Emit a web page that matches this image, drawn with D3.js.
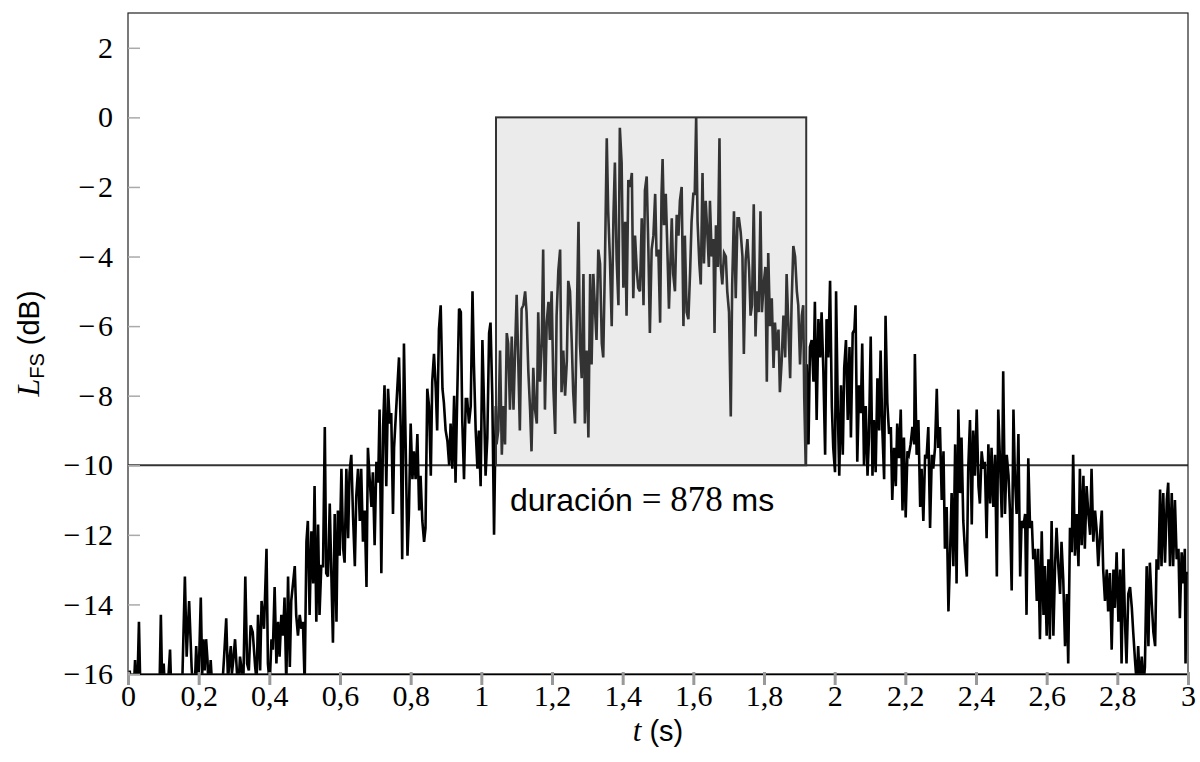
<!DOCTYPE html>
<html><head><meta charset="utf-8">
<script src="https://cdn.jsdelivr.net/npm/d3@7"></script>
<style>body{margin:0;background:#fff}</style>
</head><body>
<svg id="chart" width="1200" height="762"></svg>
<script>
// ---- data ----
const timeMs = [
0,5,10,14,20,25,31,36,42,48,53,60,65,72,77,83,89,93,97,101,107,112,119,124,130,136,142,147,153,161,166,173,180,187,193,199,206,210,213,217,221,225,228,234,239,243,249,255,260,266,272,278,283,287,291,294,298,303,308,312,317,322,326,332,337,342,347,353,360,364,368,374,378,385,
392,396,401,406,410,415,420,425,429,434,439,443,448,453,458,462,467,472,476,481,486,491,495,500,505,509,514,519,524,528,533,538,542,547,552,557,561,566,571,575,580,585,590,594,599,604,609,613,618,623,627,632,637,642,646,651,656,660,665,670,675,679,684,689,693,698,703,708,712,717,722,726,731,736,741,745,750,
753,760,767,772,776,781,786,791,795,800,805,809,814,819,824,828,833,838,842,847,852,857,861,866,871,875,880,885,890,894,899,904,909,913,918,923,927,932,937,942,946,951,956,960,965,970,975,979,984,989,993,998,1003,1008,1012,1017,1022,1026,1031,1036,1041,
1043,1048,1053,1058,1062,1067,1072,1076,1081,1086,1091,1095,1100,1105,1109,1114,1119,1124,1128,1133,1138,1142,1147,1152,1157,1161,1166,1171,1175,1180,1185,1190,1194,1199,1204,1209,1213,1218,1223,1227,1232,1237,1242,1246,1251,1256,1260,1265,1270,1275,1279,1284,1289,1293,1298,1303,1308,1312,1317,1322,1326,1331,1336,1341,1345,1350,1355,1359,1364,1369,1374,1378,1383,1388,1392,1397,1402,1407,1411,1416,1421,1426,1430,1435,1440,1444,1449,1454,1459,1463,1468,1473,1477,1482,1487,1492,1496,1501,1506,1510,1513,1517,1522,1526,1531,
1539,1543,1548,1553,1558,1562,1567,1572,1576,1581,1586,1591,1595,1600,1604,1608,1612,1617,1621,1626,1630,1635,1640,1644,1647,1652,1657,1660,1664,1669,1674,1677,1682,1687,1692,1696,1701,1706,1710,1715,1720,1725,1729,1734,1739,1743,1748,1753,1758,1762,1766,1771,1776,1780,1785,1790,1794,1799,1804,1808,1812,1817,1822,1827,1831,1836,1841,1845,1850,1855,1860,1864,1869,1874,1878,1883,1888,1893,1897,1902,1907,1911,1914,1918,1921,1926,1930,
1935,1940,1944,1949,1954,1959,1963,1968,1973,1977,1982,1987,1992,1996,2001,2004,2009,2013,2018,2023,2027,2032,2037,2042,2046,2051,2056,2059,2064,2069,2074,2078,2083,2088,2093,2097,2102,2107,2111,2116,2121,2126,2130,2135,2140,2144,2149,2154,2159,2163,2168,2173,2177,2182,2187,2192,2196,2201,2206,2210,2215,2220,2225,2227,2232,2237,2242,2246,2251,2256,2260,2265,2270,2275,2279,2284,2289,2293,2298,2303,2308,
2312,2317,2322,2326,2331,2336,2341,2345,2350,2355,2359,2364,2369,2374,2378,2383,2388,2392,2397,2402,2407,2411,2416,2421,2425,2430,2435,2440,2444,2449,2454,2459,2463,2468,2473,2477,2482,2487,2492,2496,2501,2506,2510,2515,2520,2525,2529,2534,2539,2543,2548,2553,2558,2562,2567,2572,2576,2581,2586,2591,2595,2600,2605,2609,2614,2619,2624,2628,2633,2638,2642,2647,2652,2657,2661,2666,2671,2675,2680,2685,2690,2694,
2699,2704,2708,2713,2718,2723,2727,2732,2737,2741,2746,2751,2756,2760,2765,2770,2774,2779,2784,2789,2793,2798,2803,2808,2812,2817,2822,2826,2831,2836,2841,2845,2850,2855,2859,2864,2869,2874,2878,2883,2888,2892,2897,2902,2907,2911,2916,2921,2925,2930,2935,2940,2944,2949,2954,2958,2963,2968,2973,2977,2982,2987,2991,2993,2996,3000
];
const levelDb = [
-17,-15.9,-17,-17,-15.6,-17,-14.5,-17,-17.5,-16,-17,-17.5,-17,-17.5,-17,-17.5,-16.5,-14.3,-16.5,-15.7,-17,-16.5,-15.3,-17,-17.5,-17,-17.5,-17,-16.5,-13.2,-15.5,-13.9,-15.8,-17,-15.2,-16.5,-13.8,-16,-15,-15.9,-15,-15.6,-16.5,-15.6,-16.5,-16,-17,-16.5,-17,-16.5,-15.5,-14.4,-16.2,-15.6,-15.2,-16,-15.6,-15,-15.9,-16.5,-15.5,-15.9,-16.5,-13.2,-15.7,-15.9,-14.6,-14.8,-15.8,-16.2,-14.3,-15.9,-13.9,-14.7,
-12.4,-15.7,-16.3,-15,-15.3,-13.5,-15.7,-14.5,-15.5,-14.3,-14.9,-13.8,-16.3,-13.2,-15.8,-13.9,-13.4,-12.9,-14.3,-14.9,-14.3,-14.7,-14.5,-16.3,-12.2,-11.6,-14.3,-11.9,-13.4,-10.6,-14.5,-11.7,-14.3,-12.9,-12.9,-8.9,-13.1,-13.2,-11.1,-12.9,-15.1,-11.4,-14.5,-11.3,-12.6,-10.1,-12.4,-12.8,-10.1,-12.1,-10.2,-9.7,-11.5,-12.9,-10.9,-10.1,-11.6,-10.1,-12.2,-11.3,-13.5,-9.5,-10.4,-11.2,-10.2,-12.3,-9.9,-10.5,-8.4,-13.1,-8.9,-7.7,-10.6,-7.8,-8.8,-8.5,-11.4,
-9.5,-8.2,-6.9,-9,-12.7,-6.5,-9.5,-12.6,-11.4,-8.8,-10.4,-9.6,-10.4,-9.1,-11.3,-10.3,-11.6,-12.2,-11.8,-7.8,-8.3,-10.3,-7.6,-6.8,-7.8,-9,-6.1,-5.4,-7.8,-8.2,-9,-9.3,-10,-8.8,-10.1,-8,-10.5,-7.9,-5.5,-5.6,-8.7,-10.4,-8.1,-8.1,-8.8,-8.3,-5,-7.1,-9,-10.1,-9,-10.6,-6.4,-8.4,-10.3,-9.2,-6.2,-5.9,-8,-12,-8.3,
-9.4,-9,-6.7,-9.7,-8.3,-9.4,-6.2,-6.5,-8.4,-6.3,-8.4,-6.9,-5.1,-7.2,-9,-5.5,-5.4,-5,-5.6,-7.3,-8.4,-9.6,-7.2,-8.4,-8.8,-5.6,-7.6,-6.5,-3.8,-8.4,-5.9,-5.3,-6.4,-5,-7.8,-9.1,-5.7,-4.4,-3.8,-7.9,-6.7,-8,-7,-4.7,-5,-6.5,-7.9,-8.8,-5.9,-3,-6.5,-7.5,-4.5,-8.8,-6.7,-9.2,-4.5,-7.1,-4.5,-5.6,-6.4,-3.8,-4.2,-6.5,-6.9,-4.1,-0.6,-2.7,-4.1,-6,-2.8,-1.3,-4.1,-5.4,-0.3,-1.3,-4.9,-3,-5.7,-1.8,-2,-1.6,-5.2,-3.4,-4.4,-4.9,-5,-2.9,-5.4,-2.1,-1.7,-3.9,-6.2,-3.8,-3.4,-2.2,-4,-3.8,-5.9,-2.2,-1.2,-3.1,-2.2,-3.6,-5.5,
-2.9,-4.5,-5,-2.8,-3.4,-2.4,-2,-6,-3.4,-5.6,-5.8,-4.4,-3,-2.2,-2.2,0,-3,-4.2,-4.8,-1.6,-4.2,-2.4,-3.4,-4.3,-2.4,-4,-3.5,-6.2,-3.1,-4.3,-0.6,-4.2,-4.8,-3.9,-4,-5,-5.6,-8.6,-4.8,-2.7,-5.2,-2.9,-2.9,-3.3,-4,-6.8,-4.1,-3.5,-4.4,-5.7,-5.4,-2.5,-6.3,-5,-5.6,-2.7,-5.6,-4.8,-4.3,-7.6,-3.9,-6,-5.2,-7.2,-5.9,-6.7,-6.1,-7.9,-7,-5.7,-6.9,-4.5,-6,-7.5,-5.4,-3.7,-4,-5,-5.4,-7.1,-5.7,-5.4,-8.1,-10,-7.1,-9.4,-6.6,
-6.4,-7.6,-5.3,-8.7,-5.8,-6.9,-5.6,-7.3,-9.7,-5.8,-6.9,-4.7,-8.3,-9.5,-10.2,-5,-8.5,-10.3,-7.7,-9.7,-7.2,-6.4,-8.7,-6.6,-9.2,-6.2,-6.1,-5.4,-9.9,-7.7,-8.5,-6.5,-10,-8.3,-10.3,-9.2,-6.3,-10.3,-8.7,-10.2,-7.5,-9,-6.7,-9,-10.4,-5.7,-8.2,-9.1,-8.9,-11,-9.5,-10.6,-8.8,-9.8,-8.4,-11.3,-9.2,-11.5,-9.6,-9.7,-9.4,-8.9,-9.4,-6.8,-9.7,-8.7,-11.2,-10.1,-11.6,-9.7,-9.8,-8.9,-11.8,-9.7,-10.1,-9.5,-7.8,-9.5,-8.9,-11,-9.6,
-12.4,-11.2,-14.2,-12.8,-10.8,-12.9,-9.4,-13.4,-8.4,-10.8,-9.2,-11.6,-12.5,-13.2,-10.1,-8.7,-11.7,-9,-10.3,-8.4,-10.6,-11.1,-9.6,-10.1,-9.9,-12.1,-9.4,-11.1,-9.5,-11.2,-9.7,-13.2,-8.4,-9.9,-11.5,-7.3,-11.4,-9.7,-10.3,-11.3,-13.6,-8.4,-10.3,-11.4,-9.1,-13.2,-11.6,-11.8,-11.4,-14.3,-9.8,-11.8,-11.6,-12.7,-12.4,-13.9,-12.4,-15,-11.9,-14.3,-12.9,-14.9,-12.7,-15,-11.6,-14.9,-12.8,-11.8,-12.9,-13.7,-12.2,-13.3,-15.2,-13.7,-15.7,-11.8,-12.5,-9.7,-12.6,-11.4,-12.9,-10.1,
-12.3,-10.3,-12.4,-10.6,-11.4,-12,-10.1,-12.2,-11.3,-11.8,-12.9,-12,-11.3,-13,-13.9,-13,-14.2,-13.1,-15.3,-13,-14.1,-12.5,-14.5,-13,-15.7,-12.4,-14.6,-15.7,-13.7,-13.5,-14.1,-14.8,-15.6,-16.3,-15.2,-16.4,-15.5,-16.3,-15.8,-12.9,-15.2,-12.8,-13.9,-14.8,-15.2,-12.7,-13,-10.7,-12.9,-10.8,-12.8,-11,-10.5,-12.9,-10.8,-12.9,-11,-12.7,-12.4,-14.4,-12.5,-13.4,-12.4,-15.7,-13.1,-13.1
];
const xTickValues = [0,0.2,0.4,0.6,0.8,1,1.2,1.4,1.6,1.8,2,2.2,2.4,2.6,2.8,3];
const yTickValues = [-16,-14,-12,-10,-8,-6,-4,-2,0,2];
const thresholdDb = -10;
const burstStartS = 1.0415;
const burstEndS = 1.9195;
const burstTopDb = 0;
const durationLabel = "878";

// ---- layout ----
const W = 1200, H = 762;
const m = {left:128, right:12, top:13, bottom:88};
const svg = d3.select("#chart");
const x = d3.scaleLinear().domain([0,3]).range([m.left, W - m.right]);
const y = d3.scaleLinear().domain([-16,3]).range([H - m.bottom, m.top]);
const SERIF = '"Liberation Serif", "Times New Roman", Times';
const SANS = '"Liberation Sans", Arial, Helvetica';

svg.append("defs").append("clipPath").attr("id","plotclip")
  .append("rect").attr("x",x(0)).attr("y",y(3)).attr("width",x(3)-x(0)).attr("height",y(-16)-y(3));

const fmtX = d => d3.format(".1~f")(d).replace(".", ",");
const fmtY = d => (d < 0 ? "\u2212\u200A" + Math.abs(d) : String(d));

// threshold line
svg.append("line")
  .attr("x1",x(0)).attr("x2",x(3)).attr("y1",y(thresholdDb)).attr("y2",y(thresholdDb))
  .attr("stroke","#333").attr("stroke-width",2);

// signal
const pts = timeMs.map((t,i)=>[t/1000, levelDb[i]]);
svg.append("path").datum(pts)
  .attr("clip-path","url(#plotclip)")
  .attr("fill","none").attr("stroke","#000").attr("stroke-width",2.6)
  .attr("d", d3.line().x(d=>x(d[0])).y(d=>y(d[1])));

// burst box (translucent overlay)
svg.append("rect")
  .attr("x",x(burstStartS)).attr("y",y(burstTopDb))
  .attr("width",x(burstEndS)-x(burstStartS)).attr("height",y(thresholdDb)-y(burstTopDb))
  .attr("fill","rgb(183,183,183)").attr("fill-opacity",0.28)
  .attr("stroke","#333").attr("stroke-width",2);

// frame
svg.append("rect").attr("x",x(0)).attr("y",y(3)).attr("width",x(3)-x(0)).attr("height",y(-16)-y(3))
  .attr("fill","none").attr("stroke","#222").attr("stroke-width",1.2);

// x axis
const xAxis = d3.axisBottom(x).tickValues(xTickValues).tickFormat(fmtX).tickSize(11).tickPadding(0);
const gx = svg.append("g").attr("transform",`translate(0,${y(-16)})`).call(xAxis);
gx.select(".domain").attr("stroke","#000").attr("stroke-width",1.5);
gx.selectAll(".tick line").attr("stroke","#999").attr("stroke-width",3).attr("y1",-2);
gx.selectAll(".tick text").style("font-family",SERIF).style("font-size","30px").attr("fill","#000");

// y axis
const yAxis = d3.axisLeft(y).tickValues(yTickValues).tickFormat(fmtY).tickSize(-12).tickPadding(15);
const gy = svg.append("g").attr("transform",`translate(${x(0)},0)`).call(yAxis);
gy.select(".domain").remove();
gy.selectAll(".tick line").attr("stroke","#aaa").attr("stroke-width",1.5);
gy.selectAll(".tick text").style("font-family",SERIF).style("font-size","30px").attr("fill","#000");

// axis titles
const xt = svg.append("text").attr("x",(x(0)+x(3))/2).attr("y",741).attr("text-anchor","middle").style("font-size","29px");
xt.append("tspan").style("font-family",SERIF).style("font-style","italic").style("font-size","31px").text("t");
xt.append("tspan").style("font-family",SANS).text(" (s)");

const yt = svg.append("text").attr("transform",`translate(39,${(y(3)+y(-16))/2}) rotate(-90)`)
  .attr("text-anchor","middle").style("font-size","29px");
yt.append("tspan").style("font-family",SERIF).style("font-style","italic").style("font-size","32px").text("L");
yt.append("tspan").style("font-family",SANS).style("font-size","20px").attr("dy",5).text("FS");
yt.append("tspan").style("font-family",SANS).attr("dy",-5).text(" (dB)");

// annotation
const an = svg.append("text").attr("x",510).attr("y",511).style("font-size","32px");
an.append("tspan").style("font-family",SANS).text("duración ");
an.append("tspan").style("font-family",SERIF).style("font-size","35px").text("= " + durationLabel);
an.append("tspan").style("font-family",SANS).text(" ms");
</script>
</body></html>
